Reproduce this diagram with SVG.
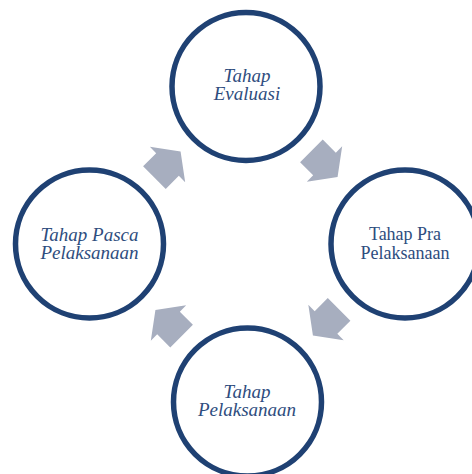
<svg xmlns="http://www.w3.org/2000/svg" width="472" height="474" viewBox="0 0 472 474">
  <style>
    .node { fill: #ffffff; stroke: #1F4173; stroke-width: 5.5; }
    .it { font-family: "Liberation Serif", "Times New Roman", serif; font-style: italic; font-size: 19px; fill: #2E4D7E; text-anchor: middle; }
    .up { font-family: "Liberation Serif", "Times New Roman", serif; font-size: 18px; fill: #2E4D7E; text-anchor: middle; }
    .arrow { fill: #A7AEBF; }
  </style>
  <defs>
    <path id="blk" d="M-18.5,-16 L0,-16 L0,-25 L18.5,0 L0,25 L0,16 L-18.5,16 Z"/>
  </defs>
  <rect width="472" height="474" fill="#ffffff"/>
  <g id="connectors">
    <use href="#blk" class="arrow" transform="translate(167.5,164.5) rotate(-45)"/>
    <use href="#blk" class="arrow" transform="translate(324.5,164) rotate(45)"/>
    <use href="#blk" class="arrow" transform="translate(326,322.5) rotate(135)"/>
    <use href="#blk" class="arrow" transform="translate(168.5,323) rotate(-135)"/>
  </g>
  <g id="node-evaluasi">
    <circle class="node" cx="246" cy="86.5" r="74"/>
    <text class="it" x="247" y="82">Tahap</text>
    <text class="it" x="247" y="100">Evaluasi</text>
  </g>
  <g id="node-pra">
    <circle class="node" cx="405" cy="244" r="74"/>
    <text class="up" x="405" y="240">Tahap Pra</text>
    <text class="up" x="405" y="259">Pelaksanaan</text>
  </g>
  <g id="node-pelaksanaan">
    <circle class="node" cx="247.5" cy="402" r="74"/>
    <text class="it" x="247" y="398">Tahap</text>
    <text class="it" x="247" y="416">Pelaksanaan</text>
  </g>
  <g id="node-pasca">
    <circle class="node" cx="89.5" cy="244" r="74"/>
    <text class="it" x="89.5" y="241">Tahap Pasca</text>
    <text class="it" x="89.5" y="259">Pelaksanaan</text>
  </g>
</svg>
